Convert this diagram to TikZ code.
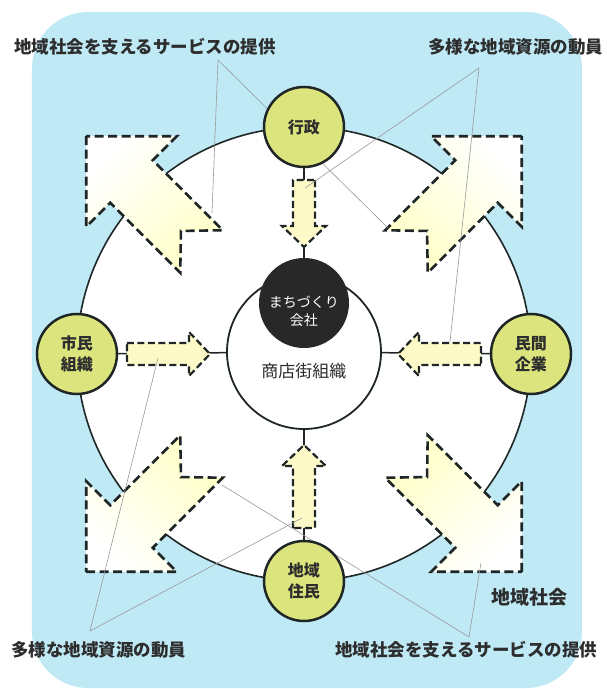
\documentclass[tikz,border=0pt]{standalone}
\usepackage{fontspec}
\setmainfont{Noto Sans CJK JP}
\usepackage{xcolor}
\usepackage{tikz}
\usetikzlibrary{positioning,calc}
\definecolor{sky}{RGB}{192,233,246}
\definecolor{leaf}{RGB}{220,229,125}
\definecolor{cream}{RGB}{253,250,200}
\definecolor{edge}{RGB}{30,38,38}
\definecolor{coal}{RGB}{40,40,40}
\definecolor{ink}{RGB}{45,45,45}
\pgfdeclarelayer{front}
\pgfsetlayers{main,front}

\begin{document}
\begin{tikzpicture}[
    x=1pt, y=1pt,
    actor/.style={circle, draw=edge, fill=leaf, line width=2.5pt, minimum size=80pt, inner sep=0pt, align=center, text=ink, font=\fontsize{16}{21}\selectfont\bfseries},
    hub/.style={circle, draw=edge, fill=white, line width=1.8pt, minimum size=154pt, inner sep=0pt},
    core/.style={circle, fill=coal, minimum size=90pt, inner sep=0pt},
    ring/.style={draw=edge, fill=white, line width=1.6pt},
    dashline/.style={draw=edge, line width=2.6pt, dash pattern=on 9pt off 4.5pt},
    dashthin/.style={draw=edge, line width=2.2pt, dash pattern=on 7pt off 3.5pt},
    spoke/.style={draw=edge, line width=1.5pt},
    note/.style={draw=gray!80, line width=0.6pt},
    caption/.style={text=ink, font=\fontsize{17.5}{20}\selectfont\bfseries},
    bigarrow/.pic={\draw[dashline, left color=yellow!22, right color=white, shading angle={#1+90}] (0,0) -- (-64,64) -- (-64,30) -- (-163,30) -- (-134,0) -- (-163,-30) -- (-64,-30) -- (-64,-64) -- cycle;},
    smallarrow/.pic={\draw[dashthin, fill=cream] (0,11) -- ({#1-21},11) -- ({#1-21},22) -- (#1,0) -- ({#1-21},-22) -- ({#1-21},-11) -- (0,-11) -- cycle;}
]
    \useasboundingbox (-304,-335) rectangle (302,354);
    \fill[sky, rounded corners=56pt] (-272,-334) rectangle (278,342);
    \draw[ring] (0,0) circle (227);

    \pic[rotate=45] at (45:308) {bigarrow=45};
    \pic[rotate=135] at (135:308) {bigarrow=135};
    \pic[rotate=225] at (225:308) {bigarrow=225};
    \pic[rotate=315] at (315:308) {bigarrow=315};

    \node[hub, label={[yshift=-19pt, text=ink, font=\fontsize{17}{20}\selectfont]center:商店街組織}] (shoten) at (0,2) {};
    \node[core, label={[yshift=-8pt, text=white, align=center, font=\fontsize{14}{18}\selectfont]center:まちづくり\\会社}] (machi) at (0,51) {};

    \begin{pgfonlayer}{front}
    \node[caption] (svcTop) at (-159,307) {地域社会を支えるサービスの提供};
    \node[caption] (resTop) at (212,307) {多様な地域資源の動員};
    \node[caption] (resBot) at (-205,-296) {多様な地域資源の動員};
    \node[caption] (svcBot) at (162,-296) {地域社会を支えるサービスの提供};
    \node[caption, font=\fontsize{19}{22}\selectfont\bfseries] (society) at (226,-243) {地域社会};

    \coordinate (svcA) at (-86,294);
    \coordinate (resA) at (175,286);
    \coordinate (resB) at (-214,-277);
    \coordinate (svcB) at (165,-283);
    \coordinate (neEnd) at (84,126);
    \coordinate (nwShaft) at (-92,141);
    \coordinate (topShaft) at (1,166);
    \coordinate (rightShaft) at (146,12);
    \coordinate (leftShaft) at (-146,-4);
    \coordinate (bottomShaft) at (-2,-164);
    \coordinate (swEnd) at (-82,-131);
    \coordinate (seHead) at (177,-209);

    \draw[note] (svcA) -- (neEnd);
    \draw[note] (svcA) -- (nwShaft);
    \draw[note] (resA) -- (topShaft);
    \draw[note] (resA) -- (rightShaft);
    \draw[note] (resB) -- (leftShaft);
    \draw[note] (resB) -- (bottomShaft);
    \draw[note] (svcB) -- (swEnd);
    \draw[note] (svcB) -- (seHead);

    \node[actor] (gyosei) at (0,227) {行政};
    \node[actor] (shimin) at (-227,0) {市民\\組織};
    \node[actor] (minkan) at (227,0) {民間\\企業};
    \node[actor] (jumin) at (0,-227) {地域\\住民};
    \end{pgfonlayer}

    \draw[spoke] (gyosei) -- (machi);
    \draw[spoke] (shimin) -- (shoten);
    \draw[spoke] (minkan) -- (shoten);
    \draw[spoke] (jumin) -- (shoten);

    \pic[rotate=-90] at (0,174) {smallarrow=67};
    \pic at (-177,0) {smallarrow=83};
    \pic[rotate=180] at (177,0) {smallarrow=83};
    \pic[rotate=90] at (0,-174) {smallarrow=83};
\end{tikzpicture}
\end{document}
